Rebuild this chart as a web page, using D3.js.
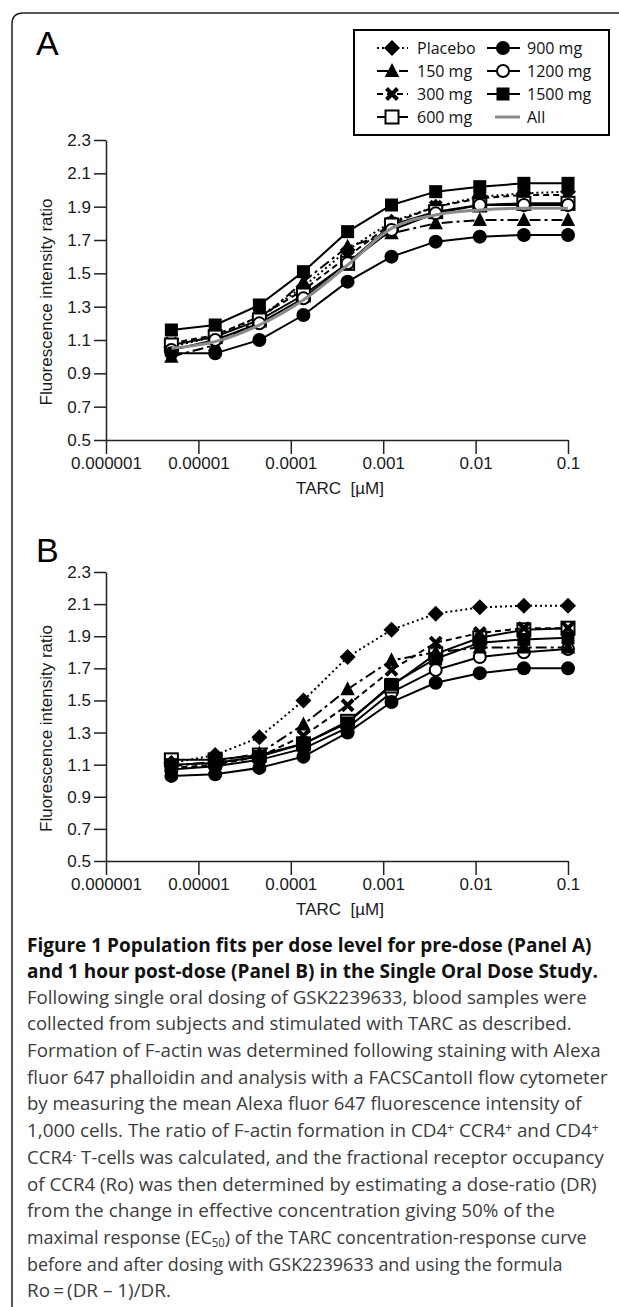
<!DOCTYPE html>
<html>
<head>
<meta charset="utf-8">
<title>Figure 1 - TARC concentration-response</title>
<script src="https://d3js.org/d3.v7.min.js"></script>
<style>
body { margin: 0; background: #fff; }
svg { display: block; }
.axis text { font-family: "Liberation Sans", Arial, sans-serif; font-size: 17px; fill: #1a1a1a; }
.axis .domain, .axis line { stroke: #222; stroke-width: 1.5px; }
.legend text { font-family: "Open Sans", sans-serif; font-size: 16px; fill: #111; }
</style>
</head>
<body>
<div id="chart"></div>
<script>
// TARC concentrations (uM), 3-fold dilution series
var conc = [0.0000051, 0.0000152, 0.0000457, 0.000137, 0.000412, 0.00123, 0.0037, 0.0111, 0.0333, 0.1];
var doses = ["Placebo", "150 mg", "300 mg", "600 mg", "900 mg", "1200 mg", "1500 mg", "All"];
var xTicks = [0.000001, 0.00001, 0.0001, 0.001, 0.01, 0.1];
var xTickLabels = ["0.000001", "0.00001", "0.0001", "0.001", "0.01", "0.1"];
var yTicks = [0.5, 0.7, 0.9, 1.1, 1.3, 1.5, 1.7, 1.9, 2.1, 2.3];

// Panel A: pre-dose
var aPlacebo = [1.06, 1.12, 1.24, 1.42, 1.64, 1.81, 1.90, 1.96, 1.98, 1.99];
var a150     = [1.00, 1.07, 1.22, 1.45, 1.66, 1.74, 1.80, 1.82, 1.82, 1.82];
var a300     = [1.08, 1.13, 1.24, 1.40, 1.60, 1.80, 1.90, 1.95, 1.97, 1.97];
var a600     = [1.07, 1.12, 1.22, 1.37, 1.56, 1.79, 1.87, 1.91, 1.92, 1.92];
var a900     = [1.02, 1.02, 1.10, 1.25, 1.45, 1.60, 1.69, 1.72, 1.73, 1.73];
var a1200    = [1.04, 1.10, 1.20, 1.35, 1.56, 1.76, 1.86, 1.91, 1.91, 1.91];
var a1500    = [1.16, 1.19, 1.31, 1.51, 1.75, 1.91, 1.99, 2.02, 2.04, 2.04];
var aAll     = [1.05, 1.09, 1.19, 1.34, 1.55, 1.77, 1.85, 1.88, 1.89, 1.89];

// Panel B: 1 hour post-dose (no "All" curve visible here)
var bPlacebo = [1.11, 1.16, 1.27, 1.50, 1.77, 1.94, 2.04, 2.08, 2.09, 2.09];
var b150     = [1.09, 1.12, 1.17, 1.35, 1.57, 1.75, 1.80, 1.83, 1.83, 1.83];
var b300     = [1.08, 1.10, 1.15, 1.28, 1.47, 1.69, 1.86, 1.92, 1.95, 1.95];
var b600     = [1.13, 1.13, 1.16, 1.23, 1.37, 1.59, 1.79, 1.89, 1.94, 1.95];
var b900     = [1.03, 1.04, 1.08, 1.15, 1.30, 1.49, 1.61, 1.67, 1.70, 1.70];
var b1200    = [1.07, 1.09, 1.13, 1.20, 1.33, 1.55, 1.69, 1.77, 1.80, 1.82];
var b1500    = [1.10, 1.11, 1.15, 1.23, 1.36, 1.60, 1.76, 1.86, 1.88, 1.89];

var captionTitle = [
    "Figure 1 Population fits per dose level for pre-dose (Panel A)",
    "and 1 hour post-dose (Panel B) in the Single Oral Dose Study."
];
var captionBody = [
    "Following single oral dosing of GSK2239633, blood samples were",
    "collected from subjects and stimulated with TARC as described.",
    "Formation of F-actin was determined following staining with Alexa",
    "fluor 647 phalloidin and analysis with a FACSCantoII flow cytometer",
    "by measuring the mean Alexa fluor 647 fluorescence intensity of",
    "1,000 cells. The ratio of F-actin formation in CD4^+^ CCR4^+^ and CD4^+^",
    "CCR4^-^ T-cells was calculated, and the fractional receptor occupancy",
    "of CCR4 (Ro) was then determined by estimating a dose-ratio (DR)",
    "from the change in effective concentration giving 50% of the",
    "maximal response (EC_50_) of the TARC concentration-response curve",
    "before and after dosing with GSK2239633 and using the formula",
    "Ro\u2009=\u2009(DR \u2013 1)/DR."
];

var panelA = { Placebo: aPlacebo, "150 mg": a150, "300 mg": a300, "600 mg": a600,
    "900 mg": a900, "1200 mg": a1200, "1500 mg": a1500, All: aAll };
var panelB = { Placebo: bPlacebo, "150 mg": b150, "300 mg": b300, "600 mg": b600,
    "900 mg": b900, "1200 mg": b1200, "1500 mg": b1500 };

/* line + marker style per dose */
var style = {
    "Placebo": { dash: "2,3", marker: "diamond" },
    "150 mg":  { dash: "11,4,3,4", marker: "triangle" },
    "300 mg":  { dash: "6,4", marker: "cross" },
    "600 mg":  { dash: null, marker: "openSquare" },
    "900 mg":  { dash: null, marker: "circle" },
    "1200 mg": { dash: null, marker: "openCircle" },
    "1500 mg": { dash: null, marker: "square" },
    "All":     { dash: null, marker: null, grey: true }
};

var width = 619, height = 1307;
var svg = d3.select("#chart").append("svg")
    .attr("width", width).attr("height", height);

// outer frame with rounded corner
svg.append("path")
    .attr("d", "M12," + height + " L12,24 Q12,13 23,13 L" + width + ",13")
    .attr("fill", "none").attr("stroke", "#222").attr("stroke-width", 1.5);

var x = d3.scaleLog().domain([0.000001, 0.1]).range([106, 568]);

function drawMarker(g, type, cx, cy) {
    if (type == "diamond") {
        g.append("path").attr("d", "M0,-8L8,0L0,8L-8,0Z")
            .attr("transform", "translate(" + cx + "," + cy + ")").attr("fill", "#000");
    } else if (type == "triangle") {
        g.append("path").attr("d", "M0,-8L7.2,6L-7.2,6Z")
            .attr("transform", "translate(" + cx + "," + cy + ")").attr("fill", "#000");
    } else if (type == "cross") {
        g.append("path").attr("d", "M-5.5,-5.5L5.5,5.5M5.5,-5.5L-5.5,5.5")
            .attr("transform", "translate(" + cx + "," + cy + ")")
            .attr("stroke", "#000").attr("stroke-width", 4).attr("fill", "none");
    } else if (type == "square" || type == "openSquare") {
        g.append("rect").attr("x", cx - 6.5).attr("y", cy - 6.5).attr("width", 13).attr("height", 13)
            .attr("fill", type == "square" ? "#000" : "#fff")
            .attr("stroke", "#000").attr("stroke-width", type == "square" ? 0 : 2);
    } else if (type == "circle" || type == "openCircle") {
        g.append("circle").attr("cx", cx).attr("cy", cy)
            .attr("r", type == "circle" ? 7 : 6)
            .attr("fill", type == "circle" ? "#000" : "#fff")
            .attr("stroke", "#000").attr("stroke-width", type == "circle" ? 0 : 2);
    }
}

function drawPanel(label, labelY, data, yRange, order) {
    var y = d3.scaleLinear().domain([0.5, 2.3]).range(yRange);
    var g = svg.append("g");

    g.append("text").attr("x", 36).attr("y", labelY)
        .attr("font-family", "Liberation Sans, Arial, sans-serif")
        .attr("font-size", 34).attr("fill", "#000").text(label);

    g.append("g").attr("class", "axis")
        .attr("transform", "translate(106,0)")
        .call(d3.axisLeft(y).tickValues(yTicks).tickFormat(d3.format(".1f"))
            .tickSize(12).tickSizeOuter(0).tickPadding(3));

    g.append("g").attr("class", "axis")
        .attr("transform", "translate(0," + yRange[0] + ")")
        .call(d3.axisBottom(x).tickValues(xTicks)
            .tickFormat(function(d, i) { return xTickLabels[i]; })
            .tickSize(14).tickSizeOuter(0).tickPadding(3));

    g.append("text").attr("transform", "translate(46," + ((yRange[0] + yRange[1]) / 2 + 12) + ") rotate(-90)")
        .attr("text-anchor", "middle").attr("dy", "0.35em")
        .attr("font-family", "Liberation Sans, Arial, sans-serif").attr("font-size", 17)
        .attr("fill", "#1a1a1a").text("Fluorescence intensity ratio");

    g.append("text").attr("x", 340).attr("y", yRange[0] + 48)
        .attr("text-anchor", "middle").attr("dy", "0.35em")
        .attr("font-family", "Liberation Sans, Arial, sans-serif").attr("font-size", 17)
        .attr("fill", "#1a1a1a").attr("xml:space", "preserve").text("TARC  [\u00b5M]");

    order.forEach(function(dose) {
        var vals = data[dose], st = style[dose];
        if (!vals) return;
        var pts = conc.map(function(c, i) { return [x(c), y(vals[i])]; });
        var line = d3.line().curve(st.grey ? d3.curveMonotoneX : d3.curveLinear);
        var sg = g.append("g");
        sg.append("path").attr("d", line(pts))
            .attr("fill", "none")
            .attr("stroke", st.grey ? "#8a8a8a" : "#000")
            .attr("stroke-width", st.grey ? 3 : 2)
            .attr("stroke-dasharray", st.dash);
        if (st.marker) pts.forEach(function(p) { drawMarker(sg, st.marker, p[0], p[1]); });
    });
}

drawPanel("A", 55, panelA, [440, 140],
    ["Placebo", "300 mg", "150 mg", "600 mg", "1200 mg", "900 mg", "1500 mg", "All"]);
drawPanel("B", 562, panelB, [861, 572],
    ["1200 mg", "600 mg", "1500 mg", "900 mg", "300 mg", "150 mg", "Placebo"]);

// legend
var lg = svg.append("g").attr("class", "legend");
lg.append("rect").attr("x", 354).attr("y", 30).attr("width", 255).attr("height", 105)
    .attr("fill", "#fff").attr("stroke", "#000").attr("stroke-width", 2);
doses.forEach(function(dose, i) {
    var col = Math.floor(i / 4), row = i % 4;
    var cy = 48 + row * 23;
    var x0 = col ? 487 : 377, x1 = col ? 520 : 408, mx = col ? 503 : 392;
    var tx = col ? 527 : 417;
    var st = style[dose];
    if (st.grey) x0 = 495;
    lg.append("line").attr("x1", x0).attr("x2", x1).attr("y1", cy).attr("y2", cy)
        .attr("stroke", st.grey ? "#8a8a8a" : "#000")
        .attr("stroke-width", st.grey ? 3 : 2)
        .attr("stroke-dasharray", st.dash);
    if (st.marker) drawMarker(lg, st.marker, mx, cy);
    lg.append("text").attr("x", tx).attr("y", cy).attr("dy", "0.36em").text(dose);
});

// caption: each line is squeezed horizontally to the width it has in the figure
var cap = svg.append("g");
function fitLine(txt, y, target) {
    var w = txt.node().getComputedTextLength();
    var sx = Math.min(1, target / w);
    txt.attr("transform", "translate(27," + y + ") scale(" + sx + ",1)");
}
var titleWidths = [567, 573];
captionTitle.forEach(function(t, i) {
    var txt = cap.append("text").attr("x", 0).attr("y", 0).attr("dy", "0.35em")
        .attr("font-family", "Open Sans, sans-serif").attr("font-weight", "bold")
        .attr("font-size", 19).attr("fill", "#111").text(t);
    fitLine(txt, 945 + i * 26.7, titleWidths[i]);
});
var bodyWidths = [560, 545, 574, 581, 555, 572, 577, 570, 528, 560, 536, 144];
captionBody.forEach(function(t, i) {
    var txt = cap.append("text").attr("x", 0).attr("y", 0).attr("dy", "0.35em")
        .attr("font-family", "Open Sans, sans-serif").attr("font-size", 19).attr("fill", "#3c3c3c");
    t.split(/(\^[^\^]*\^|_[^_]*_)/).forEach(function(part) {
        if (!part) return;
        if (part[0] == "^") {
            txt.append("tspan").attr("font-size", 12).attr("baseline-shift", "45%").text(part.slice(1, -1));
        } else if (part[0] == "_") {
            txt.append("tspan").attr("font-size", 12).attr("baseline-shift", "-25%").text(part.slice(1, -1));
        } else {
            txt.append("tspan").text(part);
        }
    });
    fitLine(txt, 997 + i * 26.7, bodyWidths[i]);
});
</script>
</body>
</html>
